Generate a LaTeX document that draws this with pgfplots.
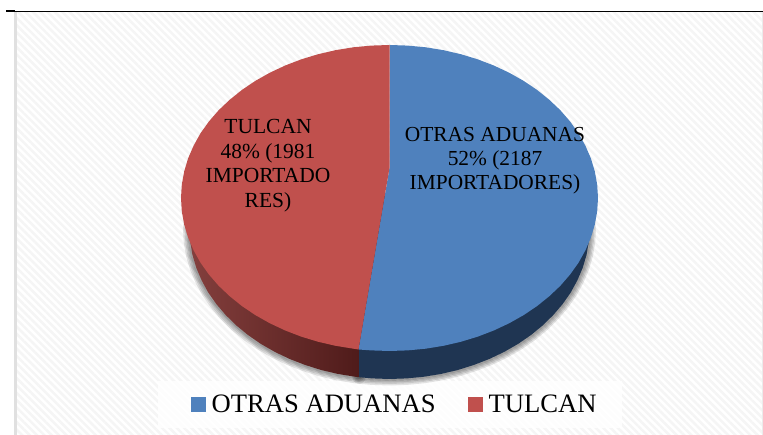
\documentclass[border=0pt]{standalone}
\usepackage{pgfplots}
\usepackage{pgfplotstable}
\usepackage{fontspec}
\setmainfont{Liberation Serif}
\pgfplotsset{compat=1.18}
\usetikzlibrary{patterns.meta}
\definecolor{pieblue}{HTML}{4F81BD}
\definecolor{piered}{HTML}{C0504D}
\definecolor{wallblue}{HTML}{1F3552}
\definecolor{wallredL}{HTML}{843F3D}
\definecolor{wallredR}{HTML}{4F1B1A}
\definecolor{stripe}{HTML}{F5F5F5}
\pgfplotstableread{
x y
0 30
0 153
18.2 152.4
36.2 150.7
54 147.8
71.3 143.8
88.1 138.7
104.25 132.5
119.6 125.3
134 117.2
147.4 108.2
159.7 98.3
170.8 87.8
180.6 76.5
189 64.7
195.9 52.3
201.4 39.6
205.3 26.6
207.7 13.3
208.5 0
207.7 -13.3
205.3 -26.6
201.4 -39.6
195.9 -52.3
189 -64.7
180.6 -76.5
170.8 -87.8
159.7 -98.3
147.4 -108.2
134 -117.2
119.6 -125.3
104.25 -132.5
88.1 -138.7
71.3 -143.8
54 -147.8
36.2 -150.7
18.2 -152.4
0 -153
-18.2 -152.4
-31 -151.5
}\blueTop
\pgfplotstableread{
x y
0 30
-31 -151.5
-36.2 -150.7
-54 -147.8
-71.3 -143.8
-88.1 -138.7
-104.25 -132.5
-119.6 -125.3
-134 -117.2
-147.4 -108.2
-159.7 -98.3
-170.8 -87.8
-180.6 -76.5
-189 -64.7
-195.9 -52.3
-201.4 -39.6
-205.3 -26.6
-207.7 -13.3
-208.5 0
-207.7 13.3
-205.3 26.6
-201.4 39.6
-195.9 52.3
-189 64.7
-180.6 76.5
-170.8 87.8
-159.7 98.3
-147.4 108.2
-134 117.2
-119.6 125.3
-104.25 132.5
-88.1 138.7
-71.3 143.8
-54 147.8
-36.2 150.7
-18.2 152.4
0 153
}\redTop
\pgfplotstableread{
x y
187.9 20.3
197 -5
200 -31
199.2 -44.1
197 -57
193.2 -69.8
187.9 -82.3
181.3 -94.4
173.2 -106
163.8 -117
153.2 -127.4
141.4 -137.1
128.6 -145.9
114.7 -153.9
100 -160.9
84.5 -166.9
68.4 -172
51.8 -175.9
34.7 -178.7
17.4 -180.4
0 -181
-17.4 -180.4
-30.5 -179.2
}\blueWall
\pgfplotstableread{
x y
-30.5 -179.2
-34.7 -178.7
-51.8 -175.9
-68.4 -172
-84.5 -166.9
-100 -160.9
-114.7 -153.9
-128.6 -145.9
-141.4 -137.1
-153.2 -127.4
-163.8 -117
-173.2 -106
-181.3 -94.4
-187.9 -82.3
-193.2 -69.8
-197 -57
-199.2 -44.1
-200 -31
-197 -5
-187.9 20.3
}\redWall
\pgfplotsset{shadowline/.style={forget plot, color=black, opacity=0.11, line width=#1, line cap=round}}
\begin{document}
\begin{tikzpicture}
\begin{axis}[
  scale only axis, width=763pt, height=435pt,
  xmin=-389.5, xmax=373.5, ymin=-237, ymax=198,
  axis lines=none,
  clip=true,
  legend columns=2,
  legend image code/.code={\path[#1,draw=none] (0pt,-7pt) rectangle (15pt,8pt); \path (19pt,0pt);},
  legend style={
    at={(0.5172,0.0701)}, anchor=center,
    draw=none, fill=none,
    inner sep=0pt,
    font=\fontsize{26.6}{30}\selectfont,
    /tikz/every even column/.append style={column sep=30pt},
  },
]
% page extent
\addplot[forget plot, draw=none] coordinates {(-389.5,198) (373.5,-237)};
% background
\addplot[forget plot, draw=none, pattern={Lines[angle=-45,distance=5.2pt,line width=2.6pt]}, pattern color=stripe]
  coordinates {(-374.5,186) (373.5,186) (373.5,-237) (-374.5,-237)} --cycle;
\addplot[forget plot, color=black!12, line width=2.5pt] coordinates {(-374,186) (-374,-237)};
\addplot[forget plot, color=black!8, line width=1pt] coordinates {(372.5,186) (372.5,-237)};
\addplot[forget plot, color=black, line width=1pt] coordinates {(-375,186.5) (373.5,186.5)};
\addplot[forget plot, color=black, line width=2pt] coordinates {(-383.5,186.5) (-374.5,186.5)};
% legend panel
\addplot[forget plot, draw=none, fill=white, fill opacity=0.8]
  coordinates {(-232,-183.5) (232,-183.5) (232,-230) (-232,-230)} --cycle;
% shadow
\addplot[shadowline=13pt] table[x=x,y=y] {\blueWall};
\addplot[shadowline=13pt] table[x=x,y=y] {\redWall};
\addplot[shadowline=10pt] table[x=x,y=y] {\blueWall};
\addplot[shadowline=10pt] table[x=x,y=y] {\redWall};
\addplot[shadowline=7pt] table[x=x,y=y] {\blueWall};
\addplot[shadowline=7pt] table[x=x,y=y] {\redWall};
\addplot[shadowline=4pt] table[x=x,y=y] {\blueWall};
\addplot[shadowline=4pt] table[x=x,y=y] {\redWall};
% walls
\addplot[forget plot, draw=none, left color=wallredL, right color=wallredR] table[x=x,y=y] {\redWall} -- (axis cs:-30.5,0) -- cycle;
\addplot[forget plot, draw=none, fill=wallblue] table[x=x,y=y] {\blueWall} -- (axis cs:-30.5,0) -- cycle;
% top faces
\addplot[draw=none, fill=pieblue] table[x=x,y=y] {\blueTop} --cycle;
\addlegendentry{OTRAS ADUANAS}
\addplot[draw=none, fill=piered] table[x=x,y=y] {\redTop} --cycle;
\addlegendentry{TULCAN}
% data labels
\node[align=center, font=\fontsize{21.5}{24.5}\selectfont, text=black] at (axis cs:-121.5,32.5) {TULCAN\\48\% (1981\\IMPORTADO\\RES)};
\node[align=center, font=\fontsize{21.4}{24.2}\selectfont, text=black] at (axis cs:105.5,37.5) {OTRAS ADUANAS\\52\% (2187\\IMPORTADORES)};
\end{axis}
\end{tikzpicture}
\end{document}
